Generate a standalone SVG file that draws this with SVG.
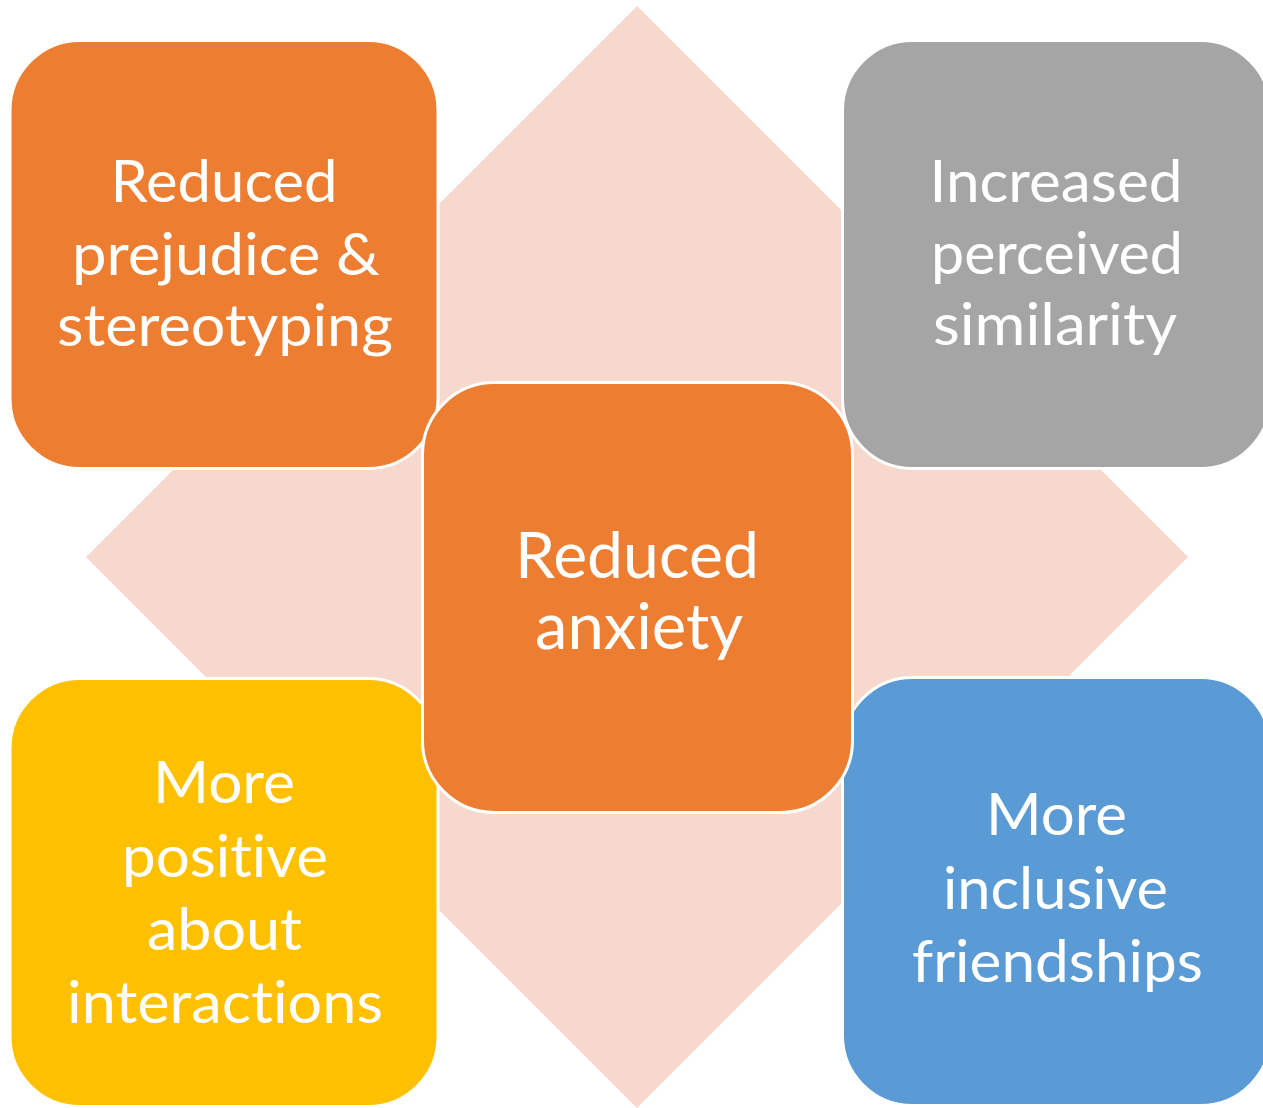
<svg xmlns="http://www.w3.org/2000/svg" width="1263" height="1108" viewBox="0 0 1263 1108">
  <style>
    .box { stroke: #FFFFFF; stroke-width: 3; }
    .lbl { font-family: Lato, "Liberation Sans", sans-serif; fill: #FFFFFF; text-anchor: middle; font-size: 59px; font-variant-ligatures: none; font-feature-settings: "liga" 0; }
    .big { font-size: 64px; }
  </style>
  <rect width="1263" height="1108" fill="#FFFFFF"/>
  <g id="background">
    <polygon points="637,6 1188,557 637,1108 86,557" fill="#F7D8CD"/>
  </g>
  <g id="connectors"></g>
  <g id="node-prejudice">
    <rect class="box" x="10" y="40.5" width="428" height="428" rx="70" ry="70" fill="#ED7D31"/>
    <text class="lbl" x="224" y="202" textLength="227" lengthAdjust="spacingAndGlyphs">Reduced</text>
    <text class="lbl" x="226" y="275" textLength="308" lengthAdjust="spacingAndGlyphs">prejudice &amp;</text>
    <text class="lbl" x="225" y="346" textLength="336" lengthAdjust="spacingAndGlyphs">stereotyping</text>
  </g>
  <g id="node-similarity">
    <rect class="box" x="842.5" y="40.5" width="428" height="428" rx="70" ry="70" fill="#A5A5A5"/>
    <text class="lbl" x="1056" y="202" textLength="253" lengthAdjust="spacingAndGlyphs">Increased</text>
    <text class="lbl" x="1057" y="274" textLength="252" lengthAdjust="spacingAndGlyphs">perceived</text>
    <text class="lbl" x="1055" y="345" textLength="244" lengthAdjust="spacingAndGlyphs">similarity</text>
  </g>
  <g id="node-positive">
    <rect class="box" x="10" y="678.5" width="428" height="428" rx="70" ry="70" fill="#FFC000"/>
    <text class="lbl" x="224" y="803" textLength="142" lengthAdjust="spacingAndGlyphs">More</text>
    <text class="lbl" x="225" y="877" textLength="206" lengthAdjust="spacingAndGlyphs">positive</text>
    <text class="lbl" x="224.5" y="950" textLength="155" lengthAdjust="spacingAndGlyphs">about</text>
    <text class="lbl" x="225" y="1023" textLength="316" lengthAdjust="spacingAndGlyphs">interactions</text>
  </g>
  <g id="node-friendships">
    <rect class="box" x="842.5" y="677.5" width="428" height="428" rx="70" ry="70" fill="#5B9BD5"/>
    <text class="lbl" x="1056.5" y="835" textLength="141" lengthAdjust="spacingAndGlyphs">More</text>
    <text class="lbl" x="1055.5" y="909" textLength="225" lengthAdjust="spacingAndGlyphs">inclusive</text>
    <text class="lbl" x="1057.5" y="982" textLength="291" lengthAdjust="spacingAndGlyphs">friendships</text>
  </g>
  <g id="node-anxiety">
    <rect class="box" x="422.5" y="382.5" width="430" height="430" rx="72" ry="72" fill="#ED7D31"/>
    <text class="lbl big" x="637" y="578" textLength="244" lengthAdjust="spacingAndGlyphs">Reduced</text>
    <text class="lbl big" x="639" y="649" textLength="208" lengthAdjust="spacingAndGlyphs">anxiety</text>
  </g>
</svg>
